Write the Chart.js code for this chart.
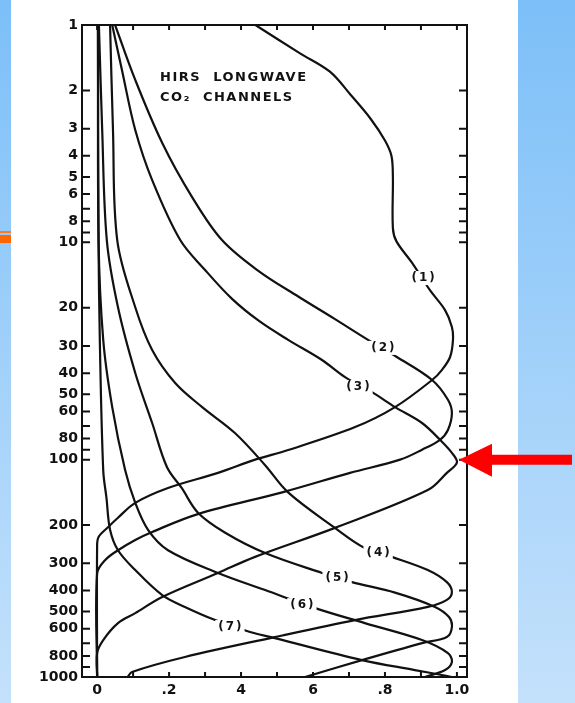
<!DOCTYPE html>
<html>
<head>
<meta charset="utf-8">
<script src="https://cdn.jsdelivr.net/npm/chart.js@4.4.0/dist/chart.umd.min.js"></script>
<style>
  html, body { margin: 0; padding: 0; background: #fff; }
  canvas { display: block; }
</style>
</head>
<body>
<canvas id="wfChart" width="575" height="703"></canvas>
<script>
// axis ticks
const pressureTicks = [1, 2, 3, 4, 5, 6, 7, 8, 9, 10, 20, 30, 40, 50, 60, 70, 80, 90, 100, 200, 300, 400, 500, 600, 700, 800, 900, 1000];
const pressureLabels = ['1', '2', '3', '4', '5', '6', '', '8', '', '10', '20', '30', '40', '50', '60', '', '80', '', '100', '200', '300', '400', '500', '600', '', '800', '', '1000'];
const weightTicks = [0, 0.1, 0.2, 0.3, 0.4, 0.5, 0.6, 0.7, 0.8, 0.9, 1.0];
const weightLabels = ['0', '', '.2', '', '4', '', '6', '', '.8', '', '1.0'];

// weighting functions (weight, pressure in mb)
const ch1Weight = [0.44, 0.564, 0.647, 0.705, 0.76, 0.8, 0.818, 0.822, 0.822, 0.832, 0.875, 0.925, 0.967, 0.986, 0.989, 0.981, 0.958, 0.931, 0.828, 0.717, 0.531, 0.439, 0.336, 0.197, 0.106, 0.058, 0.031, 0.004, 0, 0];
const ch1Pressure = [1, 1.35, 1.64, 2.1, 2.7, 3.4, 4.0, 5.0, 8.6, 9.9, 12.4, 16.6, 20.5, 24.5, 28.1, 33.7, 38.7, 43, 57.3, 70.8, 90.3, 100, 115, 135, 158, 185, 204, 227, 253, 1000];

const ch2Weight = [0.05, 0.106, 0.181, 0.264, 0.347, 0.45, 0.56, 0.66, 0.753, 0.833, 0.931, 0.975, 0.986, 0.975, 0.953, 0.903, 0.842, 0.703, 0.517, 0.28, 0.153, 0.106, 0.058, 0.022, 0, 0];
const ch2Pressure = [1, 1.79, 3.49, 6.19, 9.76, 13.6, 17.8, 22.5, 28.1, 33.7, 43, 53, 61, 73, 81, 90, 100, 115, 141, 178, 215, 234, 261, 290, 334, 1000];

const ch3Weight = [0.042, 0.069, 0.106, 0.153, 0.231, 0.3, 0.375, 0.45, 0.531, 0.625, 0.689, 0.764, 0.828, 0.903, 0.953, 0.986, 1.0, 0.972, 0.919, 0.661, 0.439, 0.336, 0.181, 0.106, 0.058, 0.017, 0, 0];
const ch3Pressure = [1, 1.61, 3.04, 5.17, 9.76, 13.4, 18.2, 23.0, 28.1, 34.8, 41.7, 48.9, 57.3, 67.8, 81, 93, 103, 115, 138, 206, 280, 332, 428, 508, 565, 676, 776, 1000];

const ch4Weight = [0.036, 0.044, 0.056, 0.106, 0.153, 0.217, 0.292, 0.383, 0.467, 0.53, 0.661, 0.744, 0.819, 0.919, 0.972, 0.986, 0.972, 0.919, 0.717, 0.494, 0.244, 0.097, 0.085];
const ch4Pressure = [1, 3, 9.8, 19.9, 31.3, 44.4, 57.3, 75.4, 106, 141, 206, 255, 280, 322, 366, 406, 442, 476, 547, 655, 809, 948, 1000];

const ch5Weight = [0.005, 0.014, 0.027, 0.058, 0.106, 0.153, 0.194, 0.235, 0.281, 0.356, 0.467, 0.625, 0.708, 0.828, 0.939, 0.978, 0.986, 0.972, 0.903, 0.736, 0.578];
const ch5Pressure = [1, 3, 9.8, 19.9, 39.9, 67.8, 108, 135, 176, 217, 269, 332, 366, 409, 476, 530, 589, 655, 698, 836, 1000];

const ch6Weight = [0.003, 0.004, 0.017, 0.042, 0.078, 0.106, 0.142, 0.197, 0.336, 0.467, 0.606, 0.744, 0.903, 0.975, 0.986, 0.967, 0.911];
const ch6Pressure = [1, 9.8, 28.1, 57.3, 112, 158, 211, 261, 332, 398, 482, 565, 676, 776, 853, 929, 1000];

const ch7Weight = [0.002, 0.004, 0.0075, 0.017, 0.026, 0.036, 0.058, 0.106, 0.181, 0.244, 0.328, 0.425, 0.494, 0.736, 0.883, 0.958, 0.986];
const ch7Pressure = [1, 9.8, 28.1, 112, 150, 210, 261, 322, 420, 476, 547, 621, 662, 836, 929, 979, 1000];

// curve labels
const channelLabels = ['(1)', '(2)', '(3)', '(4)', '(5)', '(6)', '(7)'];
const labelWeight = [0.906, 0.794, 0.725, 0.781, 0.667, 0.569, 0.369];
const labelPressure = [14.6, 30.6, 46.3, 269, 350, 467, 589];

const channels = [
    [ch1Weight, ch1Pressure], [ch2Weight, ch2Pressure], [ch3Weight, ch3Pressure],
    [ch4Weight, ch4Pressure], [ch5Weight, ch5Pressure], [ch6Weight, ch6Pressure],
    [ch7Weight, ch7Pressure]
];

const FONT = '"DejaVu Sans", sans-serif';

// page background: blue side strips, orange rule, white sheet
const backdrop = {
    id: 'backdrop',
    beforeDraw(chart) {
        const c = chart.ctx;
        const h = chart.height;
        c.save();
        c.fillStyle = '#ffffff';
        c.fillRect(0, 0, chart.width, h);
        const g = c.createLinearGradient(0, 0, 0, h);
        g.addColorStop(0, '#7cbff8');
        g.addColorStop(1, '#c4e1fb');
        c.fillStyle = g;
        c.fillRect(0, 0, 11, h);
        c.fillRect(518, 0, chart.width - 518, h);
        c.fillStyle = '#ff7a1a';
        c.fillRect(0, 231, 11, 2);
        c.fillStyle = '#ff6600';
        c.fillRect(0, 235, 11, 8);
        c.restore();
    }
};

// frame, inward ticks, curve labels, title and arrow
const decorations = {
    id: 'decorations',
    afterDatasetsDraw(chart) {
        const c = chart.ctx;
        const xs = chart.scales.x;
        const ys = chart.scales.y;
        const a = chart.chartArea;
        c.save();

        // curve labels with a white gap behind
        c.font = 'bold 12px ' + FONT;
        c.letterSpacing = '2px';
        c.textAlign = 'center';
        c.textBaseline = 'middle';
        channelLabels.forEach((t, i) => {
            const px = xs.getPixelForValue(labelWeight[i]);
            const py = ys.getPixelForValue(labelPressure[i]);
            const w = c.measureText(t).width + 4;
            c.fillStyle = '#fff';
            c.fillRect(px - w / 2, py - 7, w, 14);
            c.fillStyle = '#111';
            c.fillText(t, px + 1, py);
        });

        // title
        c.font = 'bold 13px ' + FONT;
        c.letterSpacing = '1.5px';
        c.textAlign = 'left';
        const tx = xs.getPixelForValue(0.175);
        c.fillText('HIRS  LONGWAVE', tx, ys.getPixelForValue(1.75));
        c.fillText('CO\u2082  CHANNELS', tx, ys.getPixelForValue(2.17));
        c.letterSpacing = '0px';

        // frame
        c.strokeStyle = '#111';
        c.lineWidth = 2;
        c.strokeRect(a.left, a.top, a.right - a.left, a.bottom - a.top);

        // inward tick marks
        c.beginPath();
        pressureTicks.forEach(v => {
            const py = ys.getPixelForValue(v);
            c.moveTo(a.left, py); c.lineTo(a.left + 8, py);
            c.moveTo(a.right, py); c.lineTo(a.right - 8, py);
        });
        weightTicks.forEach(v => {
            const px = xs.getPixelForValue(v);
            c.moveTo(px, a.top); c.lineTo(px, a.top + 5);
            c.moveTo(px, a.bottom); c.lineTo(px, a.bottom - 5);
        });
        c.stroke();

        // red arrow at the 100 mb peak
        const ay = ys.getPixelForValue(100);
        c.fillStyle = '#ff0000';
        c.beginPath();
        c.moveTo(459, ay);
        c.lineTo(492, ay - 16);
        c.lineTo(492, ay - 5);
        c.lineTo(572, ay - 5);
        c.lineTo(572, ay + 5);
        c.lineTo(492, ay + 5);
        c.lineTo(492, ay + 17);
        c.closePath();
        c.fill();
        c.restore();
    }
};

const ctx = document.getElementById('wfChart').getContext('2d');

new Chart(ctx, {
    type: 'scatter',
    data: {
        datasets: channels.map((ch, i) => ({
            label: channelLabels[i],
            data: ch[0].map((w, k) => ({ x: w, y: ch[1][k] })),
            showLine: true,
            borderColor: '#111',
            borderWidth: 2.2,
            pointRadius: 0,
            tension: 0.35,
            fill: false
        }))
    },
    options: {
        responsive: false,
        animation: false,
        layout: {
            padding: { left: 0, right: 108, top: 25, bottom: 0 }
        },
        plugins: {
            legend: { display: false },
            tooltip: { enabled: false }
        },
        scales: {
            x: {
                type: 'linear',
                position: 'bottom',
                min: -0.042,
                max: 1.028,
                grid: { display: false, drawTicks: false },
                border: { display: false },
                afterBuildTicks: s => { s.ticks = weightTicks.map(v => ({ value: v })); },
                afterFit: s => { s.height = 26; },
                ticks: {
                    autoSkip: false,
                    maxRotation: 0,
                    padding: 5,
                    color: '#111',
                    font: { family: FONT, weight: 'bold', size: 14 },
                    callback: (v, i) => weightLabels[i]
                }
            },
            y: {
                type: 'logarithmic',
                reverse: true,
                min: 1,
                max: 1000,
                grid: { display: false, drawTicks: false },
                border: { display: false },
                afterBuildTicks: s => { s.ticks = pressureTicks.map(v => ({ value: v })); },
                afterFit: s => { s.width = 82; },
                ticks: {
                    autoSkip: false,
                    padding: 4,
                    color: '#111',
                    font: { family: FONT, weight: 'bold', size: 14 },
                    callback: (v, i) => pressureLabels[i]
                }
            }
        }
    },
    plugins: [backdrop, decorations]
});
</script>
</body>
</html>
